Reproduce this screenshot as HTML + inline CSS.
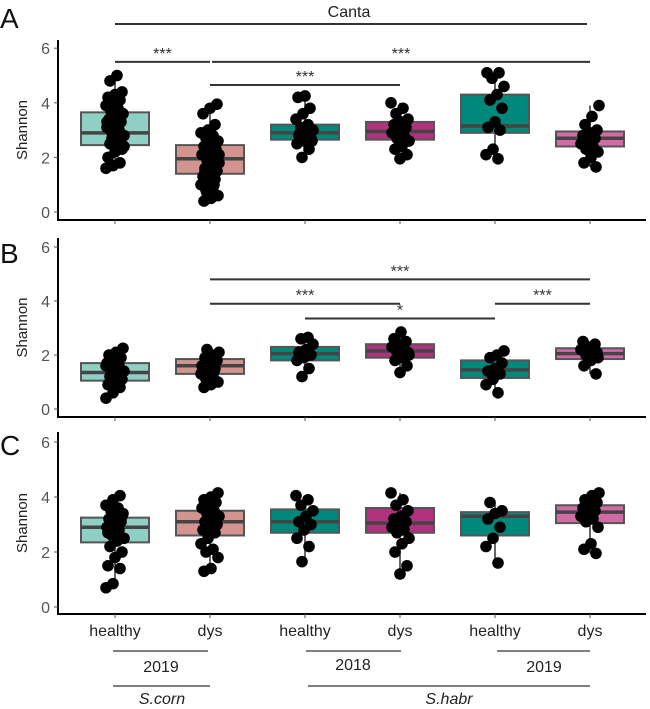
<!DOCTYPE html>
<html><head><meta charset="utf-8"><style>
body{margin:0;background:#fff}
svg{display:block;font-family:"Liberation Sans",sans-serif}
</style></head><body>
<svg id="chart" width="650" height="709" viewBox="0 0 650 709"></svg>
<script>
const categories=["healthy","dys","healthy","dys","healthy","dys"];
const colors=["#8fcfc4","#d3938e","#00897b","#b0327f","#d36aa5"];
const boxColorIdx=[0,1,2,3,2,4];
const panelLetters=["A","B","C"];
const yTicks=[0,2,4,6];
// box stats per panel: [q1, median, q3]
const statsA=[[2.45,2.9,3.65],[1.4,1.95,2.45],[2.65,2.9,3.2],[2.65,2.95,3.3],[2.9,3.15,4.3],[2.4,2.7,2.95]];
const statsB=[[1.05,1.35,1.7],[1.3,1.6,1.85],[1.8,2.05,2.3],[1.9,2.15,2.4],[1.15,1.45,1.8],[1.85,2.05,2.25]];
const statsC=[[2.35,2.9,3.25],[2.6,3.1,3.5],[2.7,3.1,3.55],[2.7,3.05,3.6],[2.6,3.3,3.45],[3.05,3.45,3.7]];
// points per panel/group
const ptsA=[[1.6,1.7,1.8,2.0,2.2,2.3,2.5,2.6,2.8,2.9,3.0,3.1,3.2,3.3,3.4,3.5,3.6,3.7,3.8,3.9,4.0,4.1,4.2,4.3,4.4,4.8,5.0,2.4,2.7,3.0,3.3,3.6],
[0.4,0.5,0.6,0.8,0.9,1.0,1.1,1.2,1.3,1.4,1.5,1.6,1.7,1.8,1.9,2.0,2.1,2.2,2.3,2.4,2.5,2.6,2.7,2.8,2.9,3.0,3.2,3.6,3.8,3.95,1.5,1.8,2.1,0.7,1.0],
[2.0,2.3,2.5,2.6,2.7,2.8,2.9,3.0,3.1,3.2,3.4,3.6,3.8,4.2,4.25,2.6,2.9],
[1.95,2.1,2.3,2.4,2.6,2.7,2.8,2.9,3.0,3.1,3.2,3.3,3.4,3.6,3.8,4.0,2.8,3.1],
[1.95,2.1,2.3,3.0,3.1,3.3,3.8,4.1,4.3,4.6,4.9,5.1,5.1],
[1.65,1.8,2.0,2.2,2.3,2.4,2.5,2.6,2.7,2.8,2.9,3.0,3.2,3.5,3.9,2.5,2.7]];
const ptsB=[[0.4,0.6,0.8,0.9,1.0,1.1,1.2,1.3,1.4,1.5,1.6,1.7,1.8,1.9,2.0,2.1,2.25,1.2,1.4,1.6],
[0.8,0.9,1.0,1.1,1.2,1.3,1.4,1.5,1.6,1.7,1.8,1.9,2.0,2.1,2.2,1.4,1.6,1.8],
[1.2,1.5,1.8,1.9,2.0,2.1,2.2,2.4,2.6,2.65],
[1.35,1.6,1.8,1.9,2.0,2.1,2.2,2.3,2.4,2.5,2.6,2.85,2.1,2.3],
[0.6,0.9,1.1,1.3,1.4,1.5,1.7,1.9,2.0,2.15],
[1.3,1.6,1.8,1.9,2.0,2.1,2.2,2.3,2.4,2.5,2.0,2.1]];
const ptsC=[[0.7,0.85,1.4,1.5,1.8,2.0,2.2,2.4,2.5,2.6,2.8,2.9,3.0,3.1,3.2,3.3,3.4,3.5,3.6,3.7,3.9,4.05,2.7,3.0,3.3],
[1.3,1.4,1.8,2.0,2.1,2.3,2.5,2.7,2.8,2.9,3.0,3.1,3.2,3.3,3.4,3.5,3.6,3.7,3.8,3.9,4.0,4.15,2.9,3.2],
[1.65,2.2,2.5,2.8,3.0,3.1,3.3,3.5,3.7,3.9,4.05],
[1.2,1.5,2.0,2.3,2.5,2.7,2.8,2.9,3.0,3.1,3.2,3.3,3.5,3.7,3.9,4.15,3.0,3.1],
[1.6,2.2,2.5,2.9,3.2,3.4,3.5,3.8],
[1.95,2.1,2.3,2.9,3.1,3.2,3.3,3.4,3.5,3.6,3.7,3.8,3.9,4.05,4.15,3.4]];
const allStats=[statsA,statsB,statsC];
const allPts=[ptsA,ptsB,ptsC];
// brackets: [fromGroup, toGroup, level y value, label]
const bracketsA=[[0,1,5.5,"***"],[1,5,5.5,"***"],[1,3,4.65,"***"]];
const bracketsB=[[1,5,4.8,"***"],[1,3,3.9,"***"],[2,4,3.35,"*"],[4,5,3.9,"***"]];
const allBrackets=[bracketsA,bracketsB,[]];

const NS="http://www.w3.org/2000/svg";
const svg=document.getElementById("chart");
function el(t,a,p){const e=document.createElementNS(NS,t);for(const k in a)e.setAttribute(k,a[k]);(p||svg).appendChild(e);return e;}
const panels=[{y0:212,unit:27.3,top:40,bottom:220,ly:28},{y0:409,unit:27,top:238,bottom:417,ly:263},{y0:607,unit:27.5,top:432,bottom:614,ly:455}];
const xLeft=58,xRight=646;
function xs(i){return 115+i*95;}
panels.forEach((P,pi)=>{
  const g=el("g",{});
  
  
  const ys=v=>P.y0-v*P.unit;
  const L=el("text",{x:0,y:P.ly,"font-size":28,fill:"#111"},g);L.textContent=panelLetters[pi];
  
  const yl=el("text",{x:27,y:(P.top+P.bottom)/2,"font-size":15,fill:"#222","text-anchor":"middle",transform:`rotate(-90 27 ${(P.top+P.bottom)/2})`},g);yl.textContent="Shannon";
  
  el("line",{x1:xLeft,y1:P.top,x2:xLeft,y2:P.bottom,stroke:"#000","stroke-width":2},g);
  el("line",{x1:xLeft-1,y1:P.bottom,x2:xRight,y2:P.bottom,stroke:"#000","stroke-width":2},g);
  yTicks.forEach(t=>{
    el("line",{x1:xLeft-4,y1:ys(t),x2:xLeft,y2:ys(t),stroke:"#555"},g);
    const tt=el("text",{x:xLeft-8,y:ys(t)+6,"font-size":16,fill:"#555","text-anchor":"end"},g);tt.textContent=t;
    
  });
  categories.forEach((c,i)=>{
    el("line",{x1:xs(i),y1:P.bottom,x2:xs(i),y2:P.bottom+4,stroke:"#555"},g);
    const s=allStats[pi][i],pts=allPts[pi][i];
    const mn=Math.min(...pts),mx=Math.max(...pts);
    el("line",{x1:xs(i),y1:ys(mn),x2:xs(i),y2:ys(mx),stroke:"#333","stroke-width":1.5},g);
    const b=el("rect",{x:xs(i)-34,y:ys(s[2]),width:68,height:ys(s[0])-ys(s[2]),fill:colors[boxColorIdx[i]],stroke:"#555","stroke-width":2},g);
    
    el("line",{x1:xs(i)-34,y1:ys(s[1]),x2:xs(i)+34,y2:ys(s[1]),stroke:"#444","stroke-width":3.5},g);
    pts.forEach((v,k)=>{
      const jx=((k*7+i*3)%19)-9;
      const d=el("circle",{cx:xs(i)+jx,cy:ys(v),r:5.8,fill:"#000"},g);
      
    });
  });
  allBrackets[pi].forEach(br=>{
    const x1=xs(br[0])+(br[0]===1&&pi===0&&br[1]===5?2:0),x2=xs(br[1]);
    el("line",{x1:x1,y1:ys(br[2]),x2:x2,y2:ys(br[2]),stroke:"#333","stroke-width":2},g);
    const t=el("text",{x:(x1+x2)/2,y:ys(br[2])-3,"font-size":16,fill:"#333","text-anchor":"middle"},g);t.textContent=br[3];
    
  });
});
// Canta
el("line",{x1:115,y1:24,x2:587,y2:24,stroke:"#333","stroke-width":2});
const ct=el("text",{x:349,y:17,"font-size":16,fill:"#222","text-anchor":"middle"});ct.textContent="Canta";

// x labels
categories.forEach((c,i)=>{
  const t=el("text",{x:xs(i),y:636,"font-size":16,fill:"#222","text-anchor":"middle"});t.textContent=c;
  
});
const groupLines=[[113,208,651,"2019",161,672],[306,401,651,"2018",353,670],[497,590,651,"2019",544,672]];
groupLines.forEach(l=>{
  el("line",{x1:l[0],y1:l[2],x2:l[1],y2:l[2],stroke:"#555","stroke-width":1.5});
  const t=el("text",{x:l[4],y:l[5],"font-size":16,fill:"#222","text-anchor":"middle"});t.textContent=l[3];
  
});
el("line",{x1:113,y1:686,x2:210,y2:686,stroke:"#555","stroke-width":1.5});
el("line",{x1:308,y1:686,x2:590,y2:686,stroke:"#555","stroke-width":1.5});
const s1=el("text",{x:162,y:704,"font-size":16,fill:"#222","text-anchor":"middle","font-style":"italic"});s1.textContent="S.corn";

const s2=el("text",{x:449,y:704,"font-size":16,fill:"#222","text-anchor":"middle","font-style":"italic"});s2.textContent="S.habr";

</script>
</body></html>
